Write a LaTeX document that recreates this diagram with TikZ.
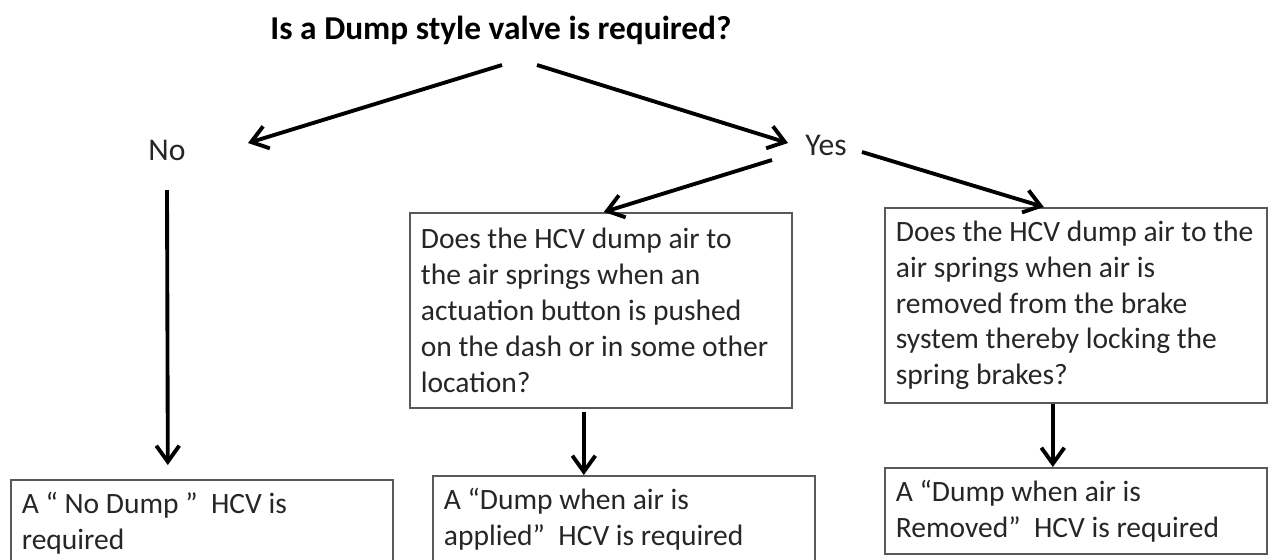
\documentclass[tikz,border=0pt]{standalone}
\usepackage{fontspec}
\setmainfont{Carlito}
\usepackage{xcolor}
\usetikzlibrary{arrows.meta,positioning,calc}

\begin{document}
\begin{tikzpicture}[
    x=0.02cm,
    y=-0.02cm,
    font=\fontsize{16.8}{20.4}\selectfont,
    >={Straight Barb[length=3.2mm,width=4.6mm]},
    question/.style={
        font=\fontsize{19}{22}\selectfont\bfseries,
        text=black
    },
    branch/.style={
        font=\fontsize{18}{21}\selectfont,
        text=black!85
    },
    box/.style={
        draw=black!65,
        line width=1pt,
        anchor=north west,
        align=flush left,
        text width=7.2cm,
        inner xsep=0.22cm,
        inner ysep=0pt,
        text=black!85
    },
    flow/.style={
        ->,
        line width=2.2pt
    }
]

\useasboundingbox (0,0) rectangle (1275,559);
\clip (0,0) rectangle (1275,559);

% Top question and the two branches
\node[question] (ques) at (501,30) {Is a Dump style valve is required?};
\node[branch]   (no)   at (167,150) {No};
\node[branch]   (yes)  at (826,145) {Yes};

\draw[flow] ($(ques.center)+(1,35)$) -- ($(no.center)+(81,-7)$);
\draw[flow] ($(ques.center)+(36,35)$) -- ($(yes.center)+(-38,-2)$);


% Yes side --- two follow-up questions
\node[box, minimum height=3.9cm] (qbutton) at (409,212)
    {Does the HCV dump air to\\the air springs when an\\actuation button is pushed\\on the dash or in some other\\location?};
\node[box, minimum height=3.9cm] (qbrake) at (884,207)
    {Does the HCV dump air to the\\air springs when air is\\removed from the brake\\system thereby locking the\\spring brakes?};

\draw[flow] ($(yes.center)+(-54,15)$) -- ($(qbutton.north)+(3,0)$);
\draw[flow] ($(yes.center)+(36,7)$) -- ($(qbrake.north)+(-32,0)$);


% Answers at the bottom
\node[box, minimum height=1.72cm] (ansno) at (10,479)
    {A “ No Dump ”\ \ HCV is\\required};
\node[box, minimum height=1.72cm] (ansapplied) at (432,475)
    {A “Dump when air is\\applied”\ \ HCV is required};
\node[box, minimum height=1.72cm] (ansremoved) at (884,467)
    {A “Dump when air is\\Removed”\ \ HCV is required};

\draw[flow] ($(no.center)+(0,40)$) -- ($(ansno.north)+(-34,-14)$);
\draw[flow] ($(qbutton.south)+(-17,3)$) -- ($(ansapplied.north)+(-40,0)$);
\draw[flow] ($(qbrake.south)+(-23,0)$) -- ($(ansremoved.north)+(-23,0)$);

\end{tikzpicture}
\end{document}
